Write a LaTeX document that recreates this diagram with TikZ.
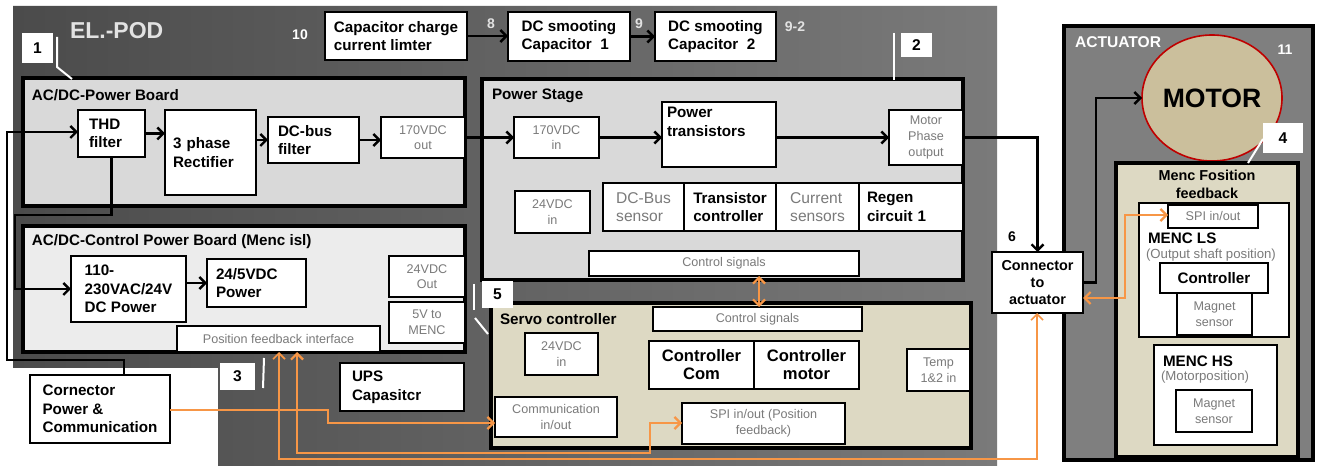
\documentclass[tikz,border=0pt]{standalone}
\usepackage{fontspec}
\setmainfont{Liberation Sans}
\usetikzlibrary{arrows.meta,shapes.geometric}
\definecolor{orng}{HTML}{F79646}
\definecolor{beige}{HTML}{DDD9C3}
\definecolor{motorc}{HTML}{CBBF9C}
\definecolor{gtext}{HTML}{7A7A7A}
\definecolor{boardA}{HTML}{D9D9D9}
\definecolor{boardB}{HTML}{ECECEC}
\definecolor{elL}{HTML}{4B4B4B}
\definecolor{elR}{HTML}{7A7A7A}
\definecolor{actg}{HTML}{7F7F7F}
\definecolor{ltxt}{HTML}{E2E2E2}
\newcommand\mybox[7][]{%
  \pgfmathsetmacro\bxw{(#5-#3)*0.5}\pgfmathsetmacro\bxh{(#6-#4)*0.5}%
  \node[#1, minimum width=\bxw pt, minimum height=\bxh pt] (#2) at ({(#3+#5)/2},{(#4+#6)/2}) {#7};}
\newcommand\myboxl[8][]{%
  \pgfmathsetmacro\bxw{(#5-#3-2*#7)*0.5}\pgfmathsetmacro\bxh{(#6-#4)*0.5}\pgfmathsetmacro\bxp{#7*0.5}%
  \node[#1, text width=\bxw pt, inner xsep=\bxp pt, align=left, minimum height=\bxh pt] (#2) at ({(#3+#5)/2},{(#4+#6)/2}) {#8};}
\begin{document}
\begin{tikzpicture}[x=0.5pt,y=-0.5pt,
  >={Straight Barb[length=3pt,width=6pt]},
  every node/.style={inner sep=0pt, outer sep=0pt},
  box/.style={draw=black, line width=0.8pt, fill=white, align=center},
  board/.style={draw=black, line width=1.6pt},
  bt/.style={font=\bfseries\fontsize{7.6}{9.3}\selectfont},
  st/.style={font=\fontsize{6.3}{7.8}\selectfont, text=gtext},
  mt/.style={font=\fontsize{7.8}{9}\selectfont, text=gtext},
  lab/.style={fill=white, font=\bfseries\fontsize{7.8}{9}\selectfont},
  ttl/.style={anchor=west, font=\bfseries\fontsize{7.6}{9}\selectfont},
  num/.style={font=\bfseries\fontsize{7}{8}\selectfont},
  blk/.style={draw=black, line width=1.2pt, ->},
  org/.style={draw=orng, line width=1.1pt},
  lead/.style={draw=white, line width=1pt}]
\useasboundingbox (0,0) rectangle (1321,469);
\fill[white] (0,0) rectangle (1321,469);
% EL.-POD enclosure
\shade[left color=elL,right color=elR] (13,6) -- (997,6) -- (997,466) -- (218,466) -- (218,368) -- (13,368) -- cycle;
\node[anchor=west, font=\bfseries\fontsize{11.5}{12}\selectfont, text=ltxt] (elpod) at (70,31) {EL.-POD};
\node[num, text=white] (n10) at (300,35) {10};
\node[num, text=ltxt] (n8) at (491,24) {8};
\node[num, text=ltxt] (n9) at (639,24) {9};
\node[num, text=ltxt] (n92) at (795,27) {9-2};
% top boxes
\mybox[box,bt,align=left]{cap}{325}{12}{467}{60}{Capacitor charge\\current limter}
\mybox[box,bt,align=left]{dc1}{508}{12}{630}{61}{DC smooting\\Capacitor\ \ 1}
\mybox[box,bt,align=left]{dc2}{655}{12}{776}{61}{DC smooting\\Capacitor\ \ 2}
% AC/DC power board
\mybox[board, fill=boardA]{pb}{23}{78}{465}{206}{}
\node[ttl] (pbt) at (32,95) {AC/DC-Power Board};
\myboxl[box,bt]{thd}{78}{110}{145}{157}{11}{THD\\filter}
\myboxl[box,bt]{rect}{165}{110}{256}{195}{8}{3 phase\\Rectifier}
\myboxl[box,bt]{dcbus}{268}{117}{359}{163}{10}{DC-bus\\filter}
\mybox[box,st]{out170}{381}{117}{465}{158}{170VDC\\out}
% Power stage
\mybox[board, fill=boardA]{ps}{482}{79}{963}{280}{}
\node[ttl] (pst) at (492,96) {Power Stage};
\mybox[box,st]{in170}{514}{117}{599}{158}{170VDC\\in}
\mybox[box]{pt}{662}{102}{776}{167}{}
\node[anchor=north west, bt, align=left] (ptt) at (667,107) {Power\\transistors};
\mybox[box,st]{mp}{889}{110}{963}{165}{Motor\\Phase\\output}
\mybox[box,st]{in24}{515}{191}{590}{233}{24VDC\\in}
\mybox[box,mt,align=left]{sen1}{603}{183}{684}{231}{DC-Bus\\sensor}
\mybox[box,bt,align=left]{sen2}{684}{183}{776}{231}{Transistor\\controller}
\mybox[box,mt,align=left]{sen3}{776}{183}{859}{231}{Current\\sensors}
\myboxl[box,bt]{sen4}{859}{183}{963}{231}{8}{Regen\\circuit 1}
\mybox[box,st]{cs1}{589}{251}{859}{276}{Control signals}
% AC/DC control power board
\mybox[board, fill=boardB]{cpb}{23}{226}{465}{352}{}
\node[ttl] (cpbt) at (32,242) {AC/DC-Control Power Board (Menc isl)};
\mybox[box,bt,align=left]{p110}{71}{256}{186}{322}{110-\\230VAC/24V\\DC Power}
\myboxl[box,bt]{p245}{207}{259}{306}{307}{9}{24/5VDC\\Power}
\mybox[box,st]{out24}{389}{256}{465}{297}{24VDC\\Out}
\mybox[box,st]{v5}{389}{302}{465}{343}{5V to\\MENC}
\mybox[box,st]{pfi}{177}{326}{380}{352}{Position feedback interface}
% connector power & communication, UPS
\mybox[box,bt,align=left]{con}{30}{375}{170}{443}{Cornector\\Power \&\\Communication}
\myboxl[box,bt]{ups}{340}{363}{464}{411}{12}{UPS\\Capasitcr}
% Servo controller
\mybox[board, fill=beige]{servo}{491}{303}{971}{448}{}
\node[ttl] (servot) at (500,319) {Servo controller};
\mybox[box,st]{cs2}{653}{307}{862}{331}{Control signals}
\mybox[box,st]{sin24}{525}{333}{598}{375}{24VDC\\in}
\mybox[box,font=\bfseries\fontsize{8.3}{9}\selectfont]{ccom}{649}{341}{754}{389}{Controller\\Com}
\mybox[box,font=\bfseries\fontsize{8.3}{9}\selectfont]{cmot}{754}{341}{859}{389}{Controller\\motor}
\mybox[box,st]{temp}{907}{349}{970}{391}{Temp\\1\&2 in}
\mybox[box,st]{comm}{495}{397}{617}{437}{Communication\\in/out}
\mybox[box,st]{spi}{682}{403}{845}{444}{SPI in/out (Position\\feedback)}
% Actuator
\mybox[board, fill=actg]{act}{1064}{26}{1313}{460}{}
\node[anchor=west, font=\bfseries\fontsize{7.8}{9}\selectfont, text=white] (actt) at (1075,42) {ACTUATOR};
\node[num, text=white] (n11) at (1285,50) {11};
\node[ellipse, draw=red!75!black, line width=0.8pt, fill=motorc, minimum width=70pt, minimum height=63pt, font=\bfseries\fontsize{13.3}{14}\selectfont] (motor) at (1212,98) {MOTOR};
\mybox[board, fill=beige]{menc}{1116}{163}{1298}{457}{}
\node[align=center, font=\bfseries\fontsize{7.2}{9}\selectfont] (menct) at (1207,184) {Menc Fosition\\feedback};
\mybox[box]{ls}{1139}{203}{1289}{337}{}
\mybox[box,st]{spils}{1168}{205}{1258}{228}{SPI in/out}
\node[ttl] (lst) at (1148,238) {MENC LS};
\node[anchor=west, font=\fontsize{6.6}{8}\selectfont, text=gtext] (lss) at (1146,255) {(Output shaft position)};
\mybox[box,bt]{ctrl}{1160}{263}{1268}{293}{Controller}
\mybox[box,st]{mag1}{1177}{293}{1252}{335}{Magnet\\sensor}
\mybox[box]{hs}{1154}{345}{1277}{445}{}
\node[ttl] (hst) at (1163,361) {MENC HS};
\node[anchor=west, font=\fontsize{6.6}{8}\selectfont, text=gtext] (hss) at (1161,377) {(Motorposition)};
\mybox[box,st]{mag2}{1176}{390}{1252}{432}{Magnet\\sensor}
% connector to actuator
\mybox[box,font=\bfseries\fontsize{7.2}{8.5}\selectfont]{cta}{992}{252}{1083}{313}{Connector\\to\\actuator}
\node[num] (n6) at (1012,237) {6};
% black connectors
\draw[blk] (cap.east) -- (cap.east -| dc1.west);
\draw[blk] (dc1.east) -- (dc1.east -| dc2.west);
\draw[blk] (thd.east) -- (thd.east -| rect.west);
\draw[blk] (rect.east |- dcbus.west) -- (dcbus.west);
\draw[blk] (dcbus.east) -- (dcbus.east -| out170.west);
\draw[blk] (out170.east) -- (out170.east -| in170.west);
\draw[blk] (in170.east) -- (in170.east -| pt.west);
\draw[blk] (pt.east |- mp.west) -- (mp.west);
\draw[blk] (mp.east) -| (cta.north);
\draw[blk] (p110.east |- p245.west) -- (p245.west);
\draw[blk] (con.north -| 124,0) -- (124,360) -- (7,360) -- (7,132) -- (thd.west |- 0,132);
\draw[blk] (thd.south) -- (thd.south |- 0,215) -- (15,215) -- (15,289) -- (p110.west |- 0,289);
\draw[blk] (cta.east) -- (cta.east -| 1096,0) |- (motor.west);
% orange connectors
\draw[org,->] (con.east |- 0,410) -- (328,410) -- (328,423) -- (comm.west |- 0,423);
\draw[org,<->] (pfi.south -| 297,0) -- (297,453) -- (650,453) -- (650,423) -- (spi.west |- 0,423);
\draw[org,<->,line width=0.8pt] (pfi.south -| 279,0) -- (279,459) -- (1037,459) -- (cta.south -| 1037,0);
\draw[org,<->] (cta.east |- 0,298) -- (1125,298) -- (1125,215) -- (spils.west |- 0,215);
\draw[org,<->] (cs1.south -| 759,0) -- (cs2.north -| 759,0);
% callout leaders and number labels
\draw[lead] (57,37) -- (57,67) -- (72,79);
\draw[lead] (894,33) -- (894,80);
\draw[lead] (264,358) -- (263,388);
\draw[lead] (1263,139) -- (1248,163);
\draw[lead] (474,284) -- (474,310);
\draw[lead] (475,318) -- (488,334);
\mybox[lab]{l1}{22}{33}{53}{63}{1}
\mybox[lab]{l2}{901}{33}{932}{57}{2}
\mybox[lab]{l3}{220}{363}{255}{390}{3}
\mybox[lab]{l4}{1263}{123}{1303}{153}{4}
\mybox[lab]{l5}{482}{281}{513}{308}{5}
\end{tikzpicture}
\end{document}
